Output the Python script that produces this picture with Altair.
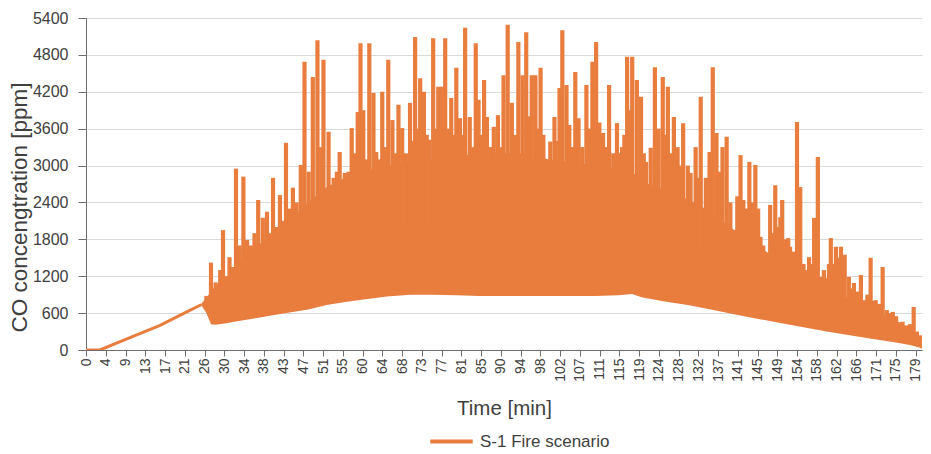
import json
import numpy as np
import pandas as pd
import altair as alt

ORANGE = "#E87D3E"
SERIES = "S-1 Fire scenario"

# ---- x axis tick labels (category-style labels of the original chart) ----
x_tick_labels = ["0", "4", "9", "13", "17", "21", "26", "30", "34", "38", "43", "47", "51",
                 "55", "60", "64", "68", "73", "77", "81", "85", "90", "94", "98", "102",
                 "107", "111", "115", "119", "124", "128", "132", "137", "141", "145", "149",
                 "154", "158", "162", "166", "171", "175", "179"]
x_tick_step = 64 / 15  # minutes between labelled ticks
y_ticks = [0, 600, 1200, 1800, 2400, 3000, 3600, 4200, 4800, 5400]

# ---- initial linear rise (min, ppm) ----
ramp_t = [0.0, 3.0, 9.5, 16.0, 22.3, 25.0]
ramp_v = [0, 0, 200, 400, 640, 740]

# ---- envelope of the dense oscillation band (min, ppm) ----
env_t = [25.0, 26.0, 27.0, 28.0, 30.0, 33.0, 36.0, 40.0, 44.0, 48.0,
         52.0, 56.0, 60.0, 65.0, 70.0, 75.0, 80.0, 85.0, 90.0, 95.0,
         100.0, 105.0, 110.0, 115.0, 118.0, 120.0, 125.0, 130.0, 135.0, 140.0,
         145.0, 150.0, 155.0, 160.0, 165.0, 170.0, 175.0, 178.0, 180.0, 181.3]
env_low = [720, 600, 420, 410, 430, 470, 510, 560, 610, 660,
           730, 780, 820, 870, 900, 900, 890, 880, 880, 880,
           880, 880, 880, 890, 910, 860, 790, 730, 660, 580,
           510, 440, 370, 300, 240, 180, 120, 80, 40, 0]
env_core = [760, 850, 950, 1050, 1150, 1400, 1650, 1850, 2100, 2400,
            2650, 2800, 2900, 3000, 3050, 3100, 3150, 3200, 3200, 3200,
            3100, 3050, 3000, 2950, 2900, 2750, 2600, 2450, 2250, 1950,
            1700, 1450, 1200, 1000, 830, 650, 480, 340, 200, 0]

# ---- spike peaks (min, ppm) ----
peak_t = [26.0, 27.0, 28.0, 29.0, 29.6, 30.3, 31.0, 31.7, 32.4, 33.2,
          34.0, 34.8, 35.6, 36.4, 37.2, 38.2, 39.1, 39.8, 40.4, 41.2,
          41.9, 42.6, 43.2, 44.0, 44.7, 45.5, 46.4, 47.2, 48.1, 49.0,
          50.0, 50.6, 51.3, 52.4, 53.5, 54.2, 54.8, 55.9, 56.7, 57.4,
          58.1, 58.7, 59.3, 59.9, 60.5, 61.2, 62.1, 62.7, 63.3, 64.0,
          64.6, 65.3, 66.2, 66.8, 67.5, 68.3, 69.1, 70.0, 70.6, 71.1,
          71.7, 72.2, 73.0, 73.6, 74.1, 75.0, 75.5, 76.1, 76.9, 77.6,
          78.3, 78.9, 79.5, 80.0, 80.8, 81.4, 81.9, 82.9, 83.5, 84.2,
          84.8, 85.4, 86.0, 86.6, 87.4, 88.1, 89.0, 89.6, 90.2, 91.1,
          92.0, 92.7, 93.4, 94.3, 95.1, 95.7, 96.3, 97.1, 97.6, 98.2,
          98.8, 99.3, 100.3, 101.2, 101.8, 102.3, 102.9, 103.8, 104.4, 105.0,
          105.7, 106.4, 107.2, 108.1, 108.8, 109.4, 110.2, 110.9, 111.7, 112.4,
          113.0, 113.9, 114.7, 115.2, 115.8, 116.3, 116.9, 117.5, 118.0, 119.0,
          119.9, 120.5, 121.0, 122.0, 122.9, 123.7, 124.6, 125.1, 125.7, 126.4,
          127.0, 127.8, 128.4, 129.0, 130.0, 130.6, 131.7, 132.3, 132.8, 133.9,
          134.7, 135.4, 136.2, 136.8, 137.5, 138.4, 139.2, 140.0, 140.7, 141.4,
          142.0, 142.7, 143.3, 144.0, 144.6, 145.2, 145.7, 146.3, 146.8, 147.8,
          148.4, 148.9, 149.5, 150.0, 150.4, 151.0, 151.7, 152.1, 152.8, 153.6,
          154.3, 155.0, 155.6, 156.2, 156.8, 157.3, 158.1, 158.8, 159.4, 159.9,
          160.5, 160.9, 161.5, 162.0, 162.6, 163.1, 163.9, 164.8, 165.4, 165.9,
          166.7, 167.4, 168.2, 168.8, 169.5, 170.0, 170.6, 171.3, 172.1, 173.0,
          173.6, 174.3, 175.0, 175.7, 176.4, 177.2, 178.0, 178.8, 179.5, 180.3]
peak_v = [880, 1420, 1100, 1300, 1950, 1200, 1510, 1350, 2950, 1700,
          2820, 1790, 1700, 1900, 2440, 2150, 2250, 1900, 2800, 2000,
          2520, 2100, 3370, 2300, 2640, 2400, 3010, 4690, 2900, 4440,
          5040, 3300, 4720, 3550, 2800, 2900, 3220, 2880, 2900, 3610,
          3200, 3870, 4990, 3900, 3100, 4990, 4180, 3220, 3100, 4200,
          3300, 4720, 3740, 3200, 3990, 3610, 3200, 4020, 3400, 5090,
          3600, 4420, 4200, 3500, 3420, 5070, 3600, 4280, 4280, 5070,
          3600, 4100, 3500, 4590, 3770, 3500, 5240, 3790, 3300, 4990,
          4070, 3500, 4390, 3790, 3300, 3630, 3820, 3300, 4470, 5290,
          4020, 3500, 5010, 4470, 5170, 3800, 4470, 4470, 3600, 4590,
          3500, 2650, 3390, 3790, 3400, 4260, 5200, 4310, 3660, 3300,
          4520, 3770, 3300, 4310, 3600, 4690, 5010, 3700, 3530, 3300,
          4310, 3200, 3690, 3200, 3300, 3500, 4770, 3900, 4770, 4390,
          4120, 3200, 3060, 3290, 4600, 3600, 4440, 3500, 4280, 3200,
          3790, 3300, 3000, 3690, 3000, 2880, 3300, 2800, 4120, 2800,
          3220, 4600, 3530, 2900, 3300, 3470, 2400, 1950, 2500, 3170,
          2440, 2300, 3060, 2400, 3010, 2300, 1840, 1700, 1510, 2360,
          1900, 2680, 2000, 2160, 2440, 1800, 1820, 1680, 1600, 3710,
          2650, 1400, 1300, 1510, 1400, 2150, 3140, 1190, 1300, 1170,
          1400, 1820, 1400, 1680, 1500, 1680, 1550, 1190, 1000, 1090,
          950, 1220, 810, 900, 1500, 800, 810, 750, 1350, 650,
          600, 620, 550, 450, 460, 400, 420, 700, 300, 240]

assert len(peak_t) == len(peak_v)
assert len(env_t) == len(env_low) == len(env_core)

ramp_df = pd.DataFrame({"t": ramp_t, "v": ramp_v, "series": SERIES})
env_df = pd.DataFrame({"t": env_t, "low": env_low, "core": env_core})

# each spike is anchored inside the band (middle of the nearest envelope row)
env_arr = np.array(env_t)
idx = [int(np.argmin(np.abs(env_arr - t))) for t in peak_t]
foot = [(env_low[i] + env_core[i]) / 2 for i in idx]
peak_df = pd.DataFrame({"t": peak_t, "v": peak_v, "foot": foot})

x_ticks = [i * x_tick_step for i in range(len(x_tick_labels))]
label_expr = json.dumps(x_tick_labels) + "[round(datum.value / %r)]" % x_tick_step

FONT = "Liberation Sans"
TXT = "#404040"
AX = "#6e6e6e"

x_scale = alt.Scale(domain=[0, 180.6], nice=False, zero=False)
y_scale = alt.Scale(domain=[0, 5400], nice=False)

x_axis = alt.Axis(values=x_ticks, tickCount=len(x_ticks), labelExpr=label_expr,
                  labelAngle=-90, labelFontSize=14, labelColor=TXT, labelPadding=2,
                  tickSize=6, tickColor=AX, domainColor=AX, grid=False,
                  title="Time [min]", titleFontSize=20.5, titleFontWeight="normal",
                  titleColor=TXT, titleY=58, titleBaseline="middle",
                  labelFlush=False, labelOverlap=False)
y_axis = alt.Axis(values=y_ticks, tickCount=len(y_ticks), format="d",
                  labelFontSize=16, labelColor=TXT, labelPadding=10, labelOverlap=False,
                  tickSize=8, tickColor=AX, domainColor=AX, grid=True,
                  gridColor="#D9D9D9", title="CO concengtration [ppm]",
                  titleFontSize=22.5, titleFontWeight="normal", titleColor=TXT,
                  titleX=-67, titleY=189, titleBaseline="middle", titleAlign="center")

band = alt.Chart(env_df).mark_area(color=ORANGE, opacity=1, clip=True).encode(
    x=alt.X("t:Q", scale=x_scale, axis=x_axis),
    y=alt.Y("low:Q", scale=y_scale, axis=y_axis),
    y2="core:Q",
)

spikes = alt.Chart(peak_df).mark_rule(color=ORANGE, strokeWidth=4.2, strokeCap="butt",
                                      clip=True).encode(
    x=alt.X("t:Q", scale=x_scale),
    y=alt.Y("v:Q", scale=y_scale),
    y2="foot:Q",
)

ramp = alt.Chart(ramp_df).mark_line(strokeWidth=3, clip=True).encode(
    x=alt.X("t:Q", scale=x_scale),
    y=alt.Y("v:Q", scale=y_scale),
    color=alt.Color("series:N", scale=alt.Scale(range=[ORANGE]),
                    legend=alt.Legend(title=None, orient="none", legendX=342, legendY=400,
                                      symbolType="stroke", symbolStrokeWidth=4,
                                      symbolSize=1800, labelFontSize=17, labelColor=TXT,
                                      labelFont=FONT, labelOffset=5, padding=0)),
)

chart = alt.layer(band, spikes, ramp).properties(
    width=836, height=332,
    padding={"left": 0, "top": 2, "right": 0, "bottom": 0},
).configure(font=FONT).configure_view(stroke=None)

chart.save("out.html", embed_options={"renderer": "svg", "actions": False})
